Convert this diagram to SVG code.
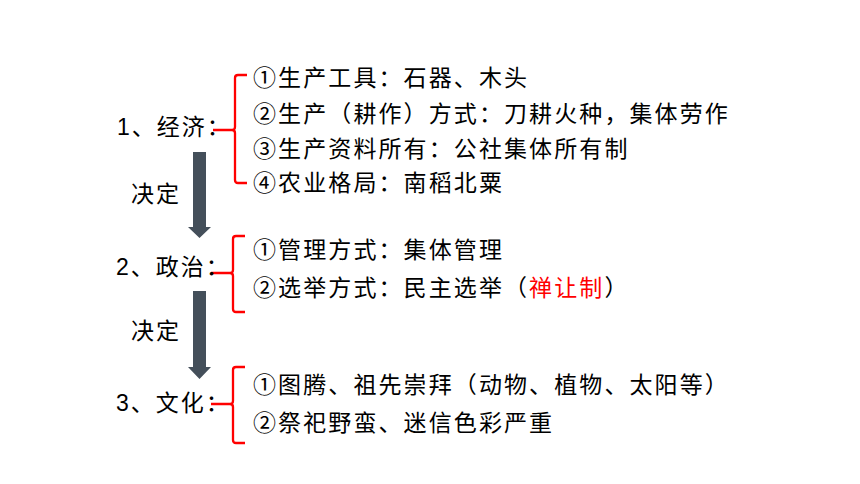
<svg xmlns="http://www.w3.org/2000/svg" width="860" height="484" viewBox="0 0 860 484">
<style>
text{font-family:"Liberation Sans","Noto Sans CJK SC",sans-serif;font-size:23px;fill:#000;letter-spacing:2px}
.item{letter-spacing:2.1px}
.br{fill:none;stroke:#ff0000;stroke-width:2.3;stroke-linejoin:round}
.ar{fill:#444f5a}
.red{fill:#ff0000}
</style>
<rect width="860" height="484" fill="#fff"/>
<g id="connectors">
<path class="ar" d="M193,152 H206 V227 H211 L199.5,238 L188,227 H193 Z"/>
<path class="ar" d="M193,291 H206 V367 H211 L199.5,379 L188,367 H193 Z"/>
<path class="br" d="M247,75 H238 Q235,75 235,78 V127 Q235,130 232,130 H213 M232,130 Q235,130 235,133 V180 Q235,183 238,183 H247"/>
<path class="br" d="M245,236 H236 Q233,236 233,239 V270 Q233,273 230,273 H211 M230,273 Q233,273 233,276 V309 Q233,312 236,312 H245"/>
<path class="br" d="M245,367 H236 Q233,367 233,370 V401 Q233,404 230,404 H211 M230,404 Q233,404 233,407 V440 Q233,443 236,443 H245"/>
<text x="131" y="202">决定</text>
<text x="131" y="339">决定</text>
</g>
<g id="node-economy">
<text x="117" y="135">1、经济：</text>
<text class="item" x="253" y="86">①生产工具：石器、木头</text>
<text class="item" x="253" y="122">②生产（耕作）方式：刀耕火种，集体劳作</text>
<text class="item" x="253" y="157">③生产资料所有：公社集体所有制</text>
<text class="item" x="253" y="191">④农业格局：南稻北粟</text>
</g>
<g id="node-politics">
<text x="116" y="275">2、政治：</text>
<text class="item" x="253" y="258">①管理方式：集体管理</text>
<text class="item" x="253" y="296">②选举方式：民主选举（<tspan class="red">禅让制</tspan>）</text>
</g>
<g id="node-culture">
<text x="116" y="411">3、文化：</text>
<text class="item" x="253" y="393">①图腾、祖先崇拜（动物、植物、太阳等）</text>
<text class="item" x="253" y="431">②祭祀野蛮、迷信色彩严重</text>
</g>
</svg>
